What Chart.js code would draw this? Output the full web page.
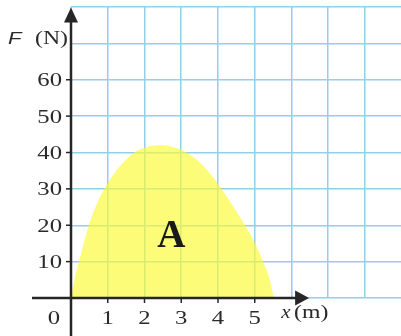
<!DOCTYPE html>
<html>
<head>
<meta charset="utf-8">
<script src="https://cdn.jsdelivr.net/npm/chart.js@4/dist/chart.umd.min.js"></script>
<style>
html,body{margin:0;padding:0;background:#fff;}
canvas{display:block;}
</style>
</head>
<body>
<canvas id="c" width="401" height="336"></canvas>
<script>
// Displacement x (m) and force F (N) read along the edge of the shaded area
const xValues = [0, 0.1, 0.25, 0.5, 0.75, 1.0, 1.25, 1.5, 1.75, 2.0, 2.25, 2.5, 2.75, 3.0, 3.25, 3.5, 3.75, 4.0, 4.25, 4.5, 4.75, 5.0, 5.25, 5.4, 5.52];
const forceValues = [0, 5.3, 11.3, 20.5, 26.9, 31.6, 35.2, 38.1, 40.2, 41.3, 41.9, 42.0, 41.6, 40.7, 39.3, 37.3, 34.6, 31.4, 27.7, 23.8, 19.7, 15.1, 9.4, 5.3, 0];
const yTickValues = [10, 20, 30, 40, 50, 60];
const yTickLabels = ['10', '20', '30', '40', '50', '60'];
const xTickValues = [1, 2, 3, 4, 5];
const xTickLabels = ['1', '2', '3', '4', '5'];
const originLabel = '0';
const yAxisSymbol = 'F';
const yAxisUnit = '(N)';
const xAxisSymbol = 'x';
const xAxisUnit = '(m)';
const areaLabel = 'A';

const points = xValues.map((x, i) => ({ x: x, y: forceValues[i] }));

function sText(ctx, txt, x, y, align, font, sx) {
  ctx.save();
  ctx.font = font;
  ctx.textAlign = align;
  ctx.textBaseline = 'alphabetic';
  ctx.translate(x, y);
  ctx.scale(sx, 1);
  ctx.fillText(txt, 0, 0);
  ctx.restore();
}

const axesPlugin = {
  id: 'axesPlugin',
  afterDatasetsDraw(chart) {
    const ctx = chart.ctx;
    const xs = chart.scales.x, ys = chart.scales.y;
    const x0 = xs.getPixelForValue(0);
    const y0 = ys.getPixelForValue(0);
    const axisColor = '#262626';
    ctx.save();
    ctx.strokeStyle = axisColor;
    ctx.fillStyle = axisColor;
    ctx.lineWidth = 2.5;
    // y axis
    const tipY = ys.getPixelForValue(80) + 0.5;
    ctx.beginPath();
    ctx.moveTo(x0, tipY + 8);
    ctx.lineTo(x0, chart.height);
    ctx.stroke();
    ctx.beginPath();
    ctx.moveTo(x0, tipY);
    ctx.lineTo(x0 - 7, tipY + 15);
    ctx.lineTo(x0 + 7, tipY + 15);
    ctx.closePath();
    ctx.fill();
    // x axis
    const tipX = xs.getPixelForValue(6.48);
    ctx.beginPath();
    ctx.moveTo(x0 - 39, y0);
    ctx.lineTo(tipX - 8, y0);
    ctx.stroke();
    ctx.beginPath();
    ctx.moveTo(tipX, y0);
    ctx.lineTo(tipX - 14, y0 - 7.5);
    ctx.lineTo(tipX - 14, y0 + 7.5);
    ctx.closePath();
    ctx.fill();
    // tick marks
    ctx.lineWidth = 1.5;
    yTickValues.forEach(v => {
      const py = ys.getPixelForValue(v);
      ctx.beginPath();
      ctx.moveTo(x0 - 5, py);
      ctx.lineTo(x0, py);
      ctx.stroke();
    });
    xTickValues.forEach(v => {
      const px = xs.getPixelForValue(v);
      ctx.beginPath();
      ctx.moveTo(px, y0);
      ctx.lineTo(px, y0 + 5);
      ctx.stroke();
    });
    ctx.restore();
  },
  afterDraw(chart) {
    const ctx = chart.ctx;
    const xs = chart.scales.x, ys = chart.scales.y;
    const x0 = xs.getPixelForValue(0);
    const y0 = ys.getPixelForValue(0);
    ctx.save();
    ctx.fillStyle = '#2a2a2a';
    const serif = '19px "Liberation Serif", "Times New Roman", serif';
    yTickValues.forEach((v, i) => {
      sText(ctx, yTickLabels[i], x0 - 9, ys.getPixelForValue(v) + 6.5, 'right', serif, 1.3);
    });
    xTickValues.forEach((v, i) => {
      sText(ctx, xTickLabels[i], xs.getPixelForValue(v), y0 + 26, 'center', serif, 1.3);
    });
    sText(ctx, originLabel, x0 - 17, y0 + 26, 'center', serif, 1.3);
    // y axis title
    sText(ctx, yAxisSymbol, 8, ys.getPixelForValue(70) + 1, 'left', 'italic 17px "Liberation Sans", Arial, sans-serif', 1.3);
    sText(ctx, yAxisUnit, 35, ys.getPixelForValue(70) + 1, 'left', serif, 1.25);
    // x axis title
    sText(ctx, xAxisSymbol, xs.getPixelForValue(5.72), y0 + 20, 'left', 'italic 19px "Liberation Serif", serif', 1.1);
    sText(ctx, xAxisUnit, xs.getPixelForValue(6.07), y0 + 20, 'left', serif, 1.25);
    // area label
    ctx.fillStyle = '#1a1a1a';
    sText(ctx, areaLabel, xs.getPixelForValue(2.73), ys.getPixelForValue(14), 'center', 'bold 39px "Liberation Serif", serif', 1.0);
    ctx.restore();
  }
};

new Chart(document.getElementById('c'), {
  type: 'line',
  data: {
    datasets: [{
      data: points,
      fill: 'origin',
      backgroundColor: 'rgba(252,250,50,0.66)',
      borderWidth: 0,
      borderColor: 'rgba(0,0,0,0)',
      pointRadius: 0,
      cubicInterpolationMode: 'monotone'
    }]
  },
  options: {
    responsive: false,
    animation: false,
    devicePixelRatio: 1,
    layout: { padding: { top: 7, right: 0, left: 0, bottom: 0 } },
    plugins: { legend: { display: false }, tooltip: { enabled: false } },
    scales: {
      x: {
        type: 'linear',
        min: 0,
        max: 8.98,
        afterBuildTicks: s => { s.ticks = [0,1,2,3,4,5,6,7,8].map(v => ({ value: v })); },
        afterFit: s => { s.height = 38; },
        grid: { color: '#92cfe9', lineWidth: 1.5, drawTicks: false },
        border: { display: false },
        ticks: { display: false }
      },
      y: {
        type: 'linear',
        min: 0,
        max: 80,
        afterBuildTicks: s => { s.ticks = [0,10,20,30,40,50,60,70,80].map(v => ({ value: v })); },
        afterFit: s => { s.width = 71; },
        grid: { color: '#92cfe9', lineWidth: 1.5, drawTicks: false },
        border: { display: false },
        ticks: { display: false }
      }
    }
  },
  plugins: [axesPlugin]
});
</script>
</body>
</html>
